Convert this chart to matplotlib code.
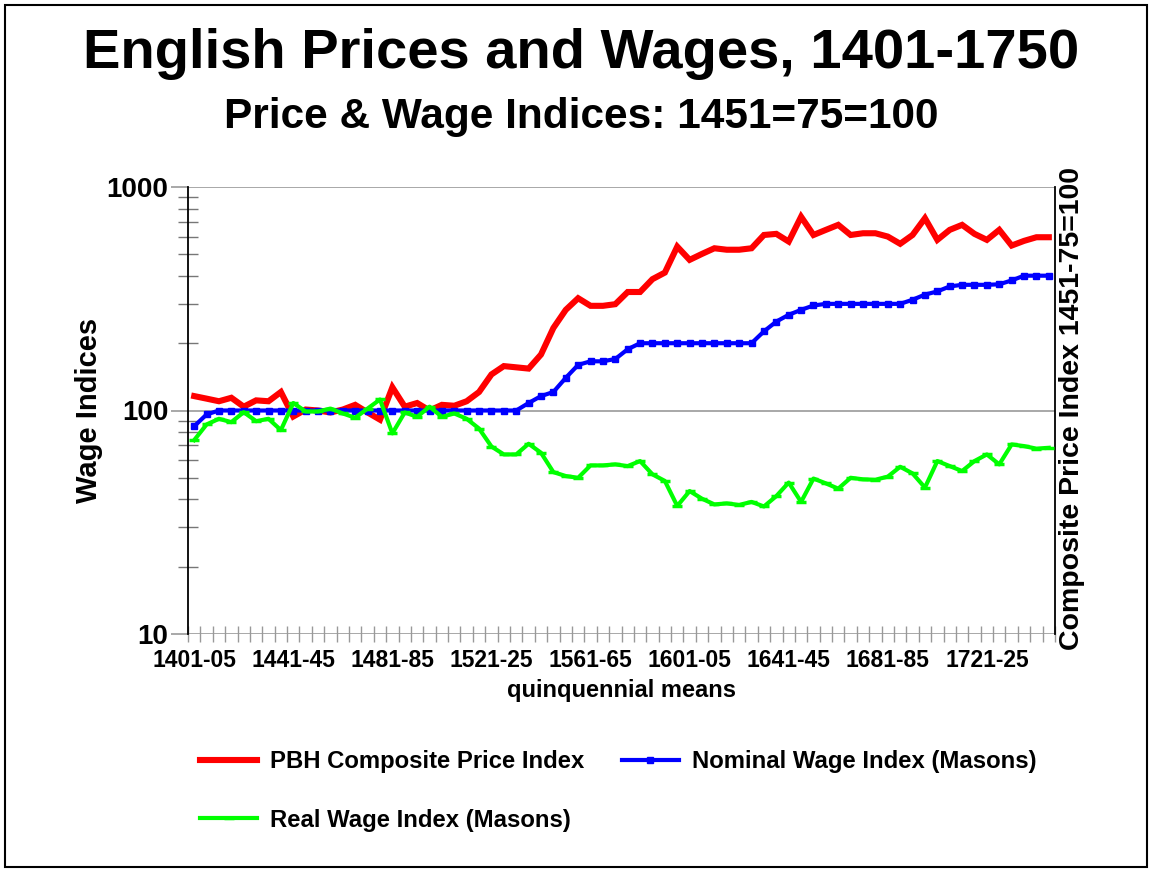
import numpy as np
import matplotlib
matplotlib.use("Agg")
import matplotlib.pyplot as plt
from matplotlib.patches import Rectangle

plt.rcParams['font.family'] = ['Liberation Sans', 'DejaVu Sans']

# ---- data ----
periods = [f"{y}-{str(y + 4)[-2:]}" for y in range(1401, 1750, 5)]
tick_labels = ["1401-05", "1441-45", "1481-85", "1521-25", "1561-65",
               "1601-05", "1641-45", "1681-85", "1721-25"]

price_index = [116, 113, 110, 114, 104, 111, 110, 121, 94, 101,
               100, 98, 101, 106, 98, 91, 127, 104, 108, 100,
               106, 105, 110, 121, 145, 158, 156, 154, 178, 234,
               282, 318, 294, 294, 299, 339, 339, 387, 414, 541,
               472, 502, 532, 524, 524, 532, 610, 617, 570, 736,
               610, 643, 677, 610, 621, 621, 600, 557, 610, 725,
               580, 643, 677, 617, 580, 643, 547, 574, 596, 596]

nominal_wage = [85, 96, 100, 100, 100, 100, 100, 100, 100, 100,
                100, 100, 100, 100, 100, 100, 100, 100, 100, 100,
                100, 100, 100, 100, 100, 100, 100, 108, 116, 121,
                140, 160, 166, 166, 170, 188, 200, 200, 200, 200,
                200, 200, 200, 200, 200, 200, 226, 250, 268, 282,
                295, 300, 300, 300, 300, 300, 300, 300, 313, 330,
                341, 359, 365, 365, 365, 367, 382, 401, 401, 401]

real_wage = [73.7, 86.6, 91.8, 88.7, 98.3, 89.6, 91.8, 81.7, 108, 99,
             99, 102, 97, 92.8, 102, 112, 79, 98, 93.7, 104,
             93.7, 97, 91.8, 83, 69, 63.6, 63.6, 71, 64.7, 53,
             50.9, 50, 56.8, 56.8, 57.4, 56.4, 59.4, 51.8, 48.4, 37.4,
             43.6, 40.3, 38.0, 38.4, 37.8, 39, 37.2, 41.4, 47.6, 39,
             49.6, 47.2, 44.7, 50, 49.2, 49, 50.6, 56, 52.3, 45.2,
             59.4, 56.4, 53.6, 59.4, 63.6, 57.4, 70.5, 69.3, 67.5, 68.1]

series_labels = ["PBH Composite Price Index", "Nominal Wage Index (Masons)",
                 "Real Wage Index (Masons)"]

# ---- figure ----
W, H = 1150, 869
fig = plt.figure(figsize=(W / 100, H / 100), dpi=100)
ax = fig.add_axes([188 / W, 1 - 634 / H, (1055 - 188) / W, (634 - 187) / H])

x = np.arange(len(periods))
l_red, = ax.plot(x, price_index, color='#ff0000', lw=4.4, solid_joinstyle='miter',
                 zorder=3, label=series_labels[0])
l_blue, = ax.plot(x, nominal_wage, color='#0000ff', lw=3, marker='s', ms=4,
                  zorder=4, label=series_labels[1])
l_green, = ax.plot(x, real_wage, color='#00ff00', lw=3, marker='_', ms=7, mew=2.5,
                   zorder=5, label=series_labels[2])

ax.set_yscale('log')
ax.set_ylim(10, 1000)
ax.set_xlim(-0.5, len(periods) - 0.5)

# gridlines at decades
for v in (10, 100, 1000):
    ax.axhline(v, color='#999999', lw=1.2, zorder=1)

# spines
ax.spines['top'].set_visible(False)
ax.spines['bottom'].set_visible(False)
ax.spines['left'].set_color('black')
ax.spines['left'].set_linewidth(1.3)
ax.spines['right'].set_color('black')
ax.spines['right'].set_linewidth(1.3)

# y ticks
ax.set_yticks([10, 100, 1000])
ax.set_yticklabels(["10", "100", "1000"], fontsize=20, fontweight='bold')
ax.tick_params(axis='y', which='major', length=12, direction='out',
               color='#999999', width=1.2, pad=2)
ax.set_yticks([v * m for v in (10, 100) for m in range(2, 10)], minor=True)
ax.yaxis.set_minor_formatter(plt.NullFormatter())
ax.tick_params(axis='y', which='minor', length=14, direction='inout',
               color='#777777', width=1)

# x ticks
pos = [periods.index(t) for t in tick_labels]
ax.set_xticks(pos)
ax.set_xticklabels(tick_labels, fontsize=16.5, fontweight='bold')
ax.tick_params(axis='x', which='major', length=0, pad=11)
ax.set_xticks(np.arange(-0.5, len(periods), 1), minor=True)
ax.tick_params(axis='x', which='minor', length=12, direction='inout',
               color='#999999', width=1)

ax.set_xlabel("quinquennial means", fontsize=17, fontweight='bold', labelpad=5)
ax.set_ylabel("Wage Indices", fontsize=21, fontweight='bold', labelpad=3)

ax.text(1072 / W, 1 - 408 / H, "Composite Price Index 1451-75=100",
        transform=fig.transFigure, rotation=90, ha='center', va='center',
        fontsize=20.5, fontweight='bold')

fig.text(0.505, 1 - 54 / H, "English Prices and Wages, 1401-1750",
         ha='center', va='center', fontsize=40.4, fontweight='bold')
fig.text(0.505, 1 - 117 / H, "Price & Wage Indices: 1451=75=100",
         ha='center', va='center', fontsize=30.5, fontweight='bold')

leg = fig.legend([l_red, l_green, l_blue],
                 [series_labels[0], series_labels[2], series_labels[1]],
                 ncol=2, loc='upper left', bbox_to_anchor=(200 / W, 1 - 750 / H),
                 frameon=False, prop={'size': 17.2, 'weight': 'bold'},
                 handlelength=2.4, handletextpad=0.55, columnspacing=1.55,
                 labelspacing=1.5, borderpad=0, borderaxespad=0)

fig.patches.append(Rectangle((5 / W, 1 - 867 / H), (1147 - 5) / W, (867 - 5) / H,
                             transform=fig.transFigure, fill=False,
                             edgecolor='black', lw=1.5))

fig.savefig("out.png", dpi=100)
